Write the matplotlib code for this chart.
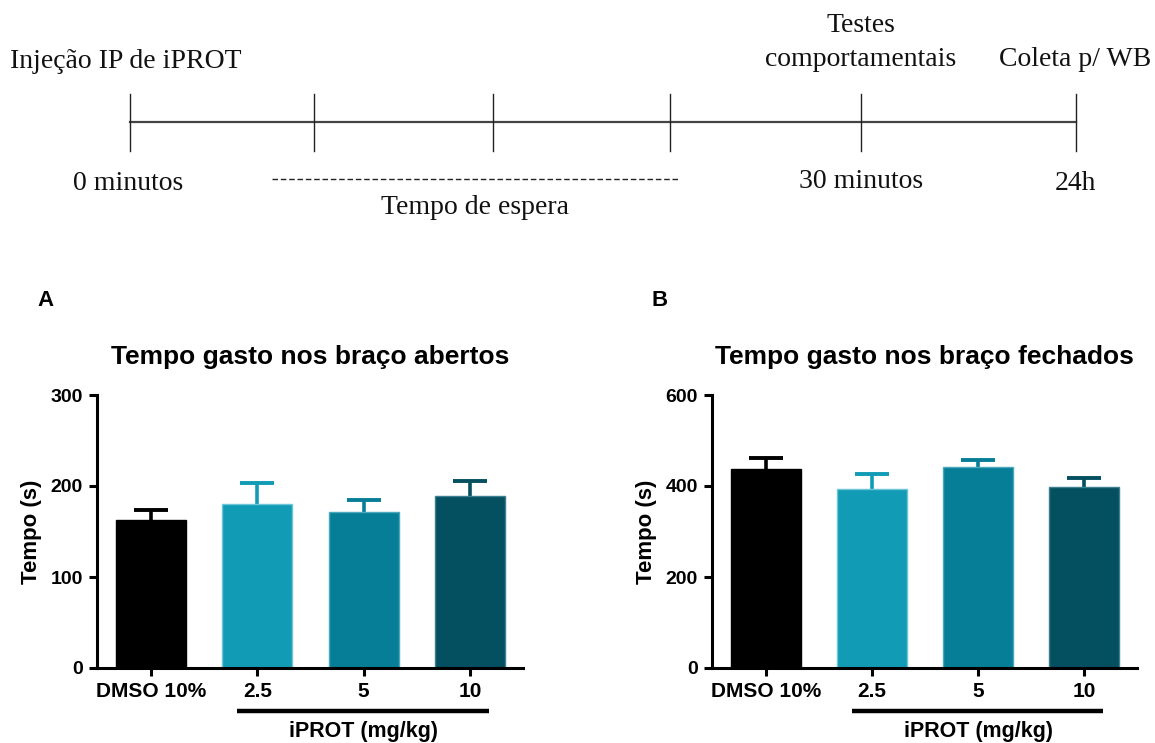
import matplotlib
matplotlib.use("Agg")
import matplotlib.pyplot as plt

# ---- data ----
groups = ["DMSO 10%", "2.5", "5", "10"]
open_mean = [163, 180, 171, 189]
open_err = [11, 23, 14, 16]
closed_mean = [437, 394, 441, 397]
closed_err = [25, 32, 17, 20]
bar_colors = ["#000000", "#129bb5", "#077e97", "#044f60"]
edge_colors = ["#000000", "#6cc6d8", "#4aa8bd", "#3d7f8e"]

# timeline
tl_ticks = [130, 314, 493, 670, 861, 1076]

W, H = 1155, 743
fig = plt.figure(figsize=(W / 100, H / 100), dpi=100)

# ---- timeline diagram (pixel-like coordinates) ----
tl = fig.add_axes([0, 0, 1, 1])
tl.set_xlim(0, W)
tl.set_ylim(H, 0)
tl.axis("off")
tl.plot([tl_ticks[0], tl_ticks[-1]], [122, 122], color="#444444", lw=1.6)
for x in tl_ticks:
    tl.plot([x, x], [94, 151], color="#222222", lw=1.0)
tl.plot([272, 678], [179, 179], color="#222222", lw=1.0, ls=(0, (4, 2)))
serif = dict(family="Liberation Serif", fontsize=20, color="#111111")
tl.text(10, 62, "Injeção IP de iPROT", ha="left", va="center", **serif)
tl.text(861, 26, "Testes", ha="center", va="center", **serif)
tl.text(861, 60, "comportamentais", ha="center", va="center", **serif)
tl.text(1075, 60, "Coleta p/ WB", ha="center", va="center", **serif)
tl.text(128, 184, "0 minutos", ha="center", va="center", **serif)
tl.text(861, 182, "30 minutos", ha="center", va="center", **serif)
tl.text(1075, 183, "24h", ha="center", va="center", **serif)
tl.text(475, 207, "Tempo de espera", ha="center", va="center", **serif)
tl.text(45, 300, "A", ha="center", va="center", family="Liberation Sans",
        fontweight="bold", fontsize=16)
tl.text(660, 300, "B", ha="center", va="center", family="Liberation Sans",
        fontweight="bold", fontsize=16)


def panel(left_px, right_px, means, errs, ymax, step, title):
    ax = fig.add_axes([left_px / W, 1 - 668 / H, (right_px - left_px) / W, (668 - 395) / H])
    xs = list(range(len(groups)))
    ax.bar(xs, means, width=0.66, color=bar_colors, edgecolor=edge_colors,
           linewidth=1.0, zorder=2)
    # upper-only error bars with a cap
    tops = [m + e for m, e in zip(means, errs)]
    ax.vlines(xs, means, tops, colors=bar_colors, linewidth=2.6, zorder=1)
    ax.hlines(tops, [x - 0.16 for x in xs], [x + 0.16 for x in xs],
              colors=bar_colors, linewidth=2.8, zorder=1)
    ax.set_xlim(-0.51, 3.5)
    ax.set_ylim(0, ymax)
    ax.set_yticks(range(0, ymax + 1, step))
    ax.set_xticks(xs)
    ax.set_xticklabels(groups)
    for s in ("top", "right"):
        ax.spines[s].set_visible(False)
    for s in ("left", "bottom"):
        ax.spines[s].set_linewidth(2.2)
    ax.tick_params(direction="out", length=6, width=2.2, pad=4)
    ax.tick_params(axis="y", labelsize=14)
    ax.tick_params(axis="x", labelsize=15)
    for lab in ax.get_xticklabels() + ax.get_yticklabels():
        lab.set_fontweight("bold")
        lab.set_family("Liberation Sans")
    ax.set_ylabel("Tempo (s)", fontsize=16, fontweight="bold",
                  family="Liberation Sans", labelpad=6)
    ax.set_title(title, fontsize=19, fontweight="bold", family="Liberation Sans", pad=22)
    # dose group bracket under the iPROT bars
    ax.plot([0.81, 3.18], [-0.158 * ymax, -0.158 * ymax], color="black", lw=3.2,
            clip_on=False, solid_capstyle="butt")
    ax.text(2.0, -0.233 * ymax, "iPROT (mg/kg)", ha="center", va="center",
            fontsize=15.5, fontweight="bold", family="Liberation Sans")
    return ax


panel(97, 523, open_mean, open_err, 300, 100, "Tempo gasto nos braço abertos")
panel(712, 1137, closed_mean, closed_err, 600, 200, "Tempo gasto nos braço fechados")

fig.savefig("out.png", dpi=100)
